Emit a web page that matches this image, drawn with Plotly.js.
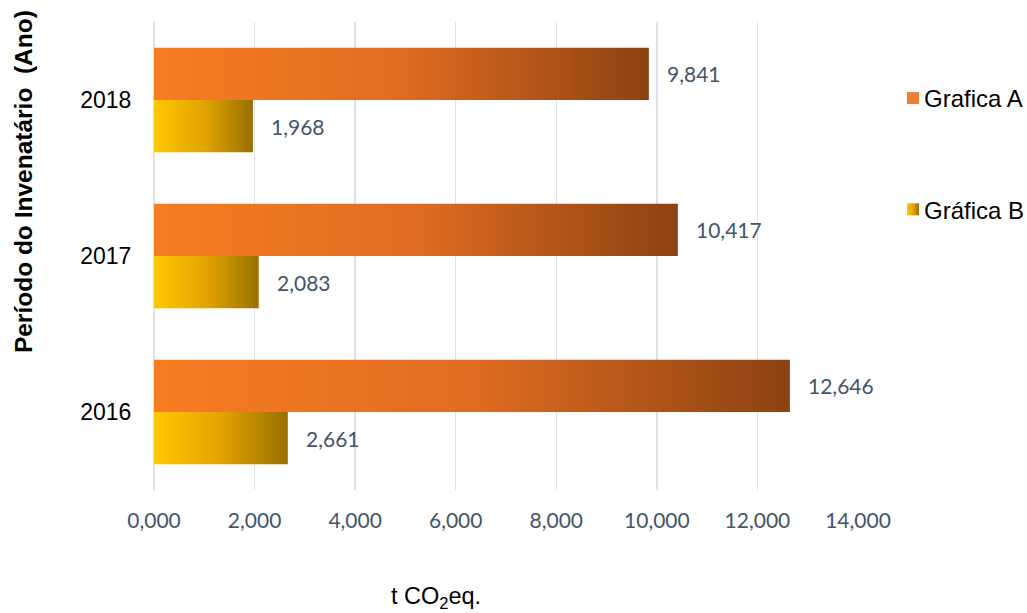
<!DOCTYPE html>
<html>
<head>
<meta charset="utf-8">
<script src="https://cdn.plot.ly/plotly-3.0.1.min.js"></script>
<style>
  html, body { margin: 0; padding: 0; background: #ffffff; }
  #chart { width: 1027px; height: 613px; }
</style>
</head>
<body>
<div id="chart"></div>
<script>
// Inventory periods and emissions (t CO2eq.)
const years = ['2016', '2017', '2018'];
const graficaA = [12646, 10417, 9841];
const graficaB = [2661, 2083, 1968];

const xTickVals = [0, 2000, 4000, 6000, 8000, 10000, 12000, 14000];
const xTickText = ['0,000', '2,000', '4,000', '6,000', '8,000', '10,000', '12,000', '14,000'];

const labelColor = '#44546A';
const labelFont = 'Lato, "Open Sans", sans-serif';
const arial = '"Liberation Sans", Arial, sans-serif';

const fmt = v => v.toLocaleString('en-US');

// Trace B first so that it sits in the lower slot of each group
const traces = [
  {
    type: 'bar', orientation: 'h', name: 'Gráfica B',
    y: years, x: graficaB,
    marker: { color: '#E3A700' },
    legendgroup: 'b', legendrank: 2, hoverinfo: 'skip'
  },
  {
    type: 'bar', orientation: 'h', name: 'Grafica A',
    y: years, x: graficaA,
    marker: { color: '#ED7D31' },
    legendgroup: 'a', legendrank: 1, hoverinfo: 'skip'
  }
];

// Value labels to the right of each bar
const slot = (1 - 0.33) / 4;
const annotations = [];
years.forEach((yr, i) => {
  annotations.push({
    x: graficaA[i], y: i + slot, xref: 'x', yref: 'y',
    text: fmt(graficaA[i]), showarrow: false,
    xanchor: 'left', xshift: 16,
    font: { family: labelFont, size: 21, color: labelColor }
  });
  annotations.push({
    x: graficaB[i], y: i - slot, xref: 'x', yref: 'y',
    text: fmt(graficaB[i]), showarrow: false,
    xanchor: 'left', xshift: 16,
    font: { family: labelFont, size: 21, color: labelColor }
  });
});

annotations.push({
  text: '<b>Período do Invenatário  (Ano)</b>',
  xref: 'paper', yref: 'paper',
  x: -0.186, y: 0.658,
  xanchor: 'center', yanchor: 'middle',
  textangle: -90, showarrow: false,
  font: { family: arial, size: 24.5, color: '#000000' }
});
annotations.push({
  text: 't CO<sub>2</sub>eq.',
  xref: 'paper', yref: 'paper',
  x: 0.401, y: -0.230,
  xanchor: 'center', yanchor: 'middle',
  showarrow: false,
  font: { family: arial, size: 23.5, color: '#000000' }
});

const layout = {
  width: 1027, height: 613,
  margin: { l: 154, r: 169, t: 22, b: 123 },
  paper_bgcolor: '#ffffff', plot_bgcolor: '#ffffff',
  barmode: 'group', bargap: 0.33, bargroupgap: 0,
  showlegend: true,
  legend: {
    xref: 'container', yref: 'container',
    x: 884 / 1027, xanchor: 'left', y: 1 - 76 / 613, yanchor: 'top',
    traceorder: 'grouped', tracegroupgap: 77,
    font: { family: arial, size: 24, color: '#000000' },
    bgcolor: 'rgba(0,0,0,0)', borderwidth: 0
  },
  xaxis: {
    range: [0, 14000], tickvals: xTickVals, ticktext: xTickText,
    showgrid: true, gridcolor: '#DDE2EA', gridwidth: 1.5,
    zeroline: true, zerolinecolor: '#DDE2EA', zerolinewidth: 1.5,
    showline: false,
    ticks: 'outside', ticklen: 12, tickcolor: 'rgba(0,0,0,0)',
    tickfont: { family: labelFont, size: 21, color: labelColor },
    fixedrange: true
  },
  yaxis: {
    type: 'category', categoryorder: 'array', categoryarray: years,
    showgrid: false, zeroline: false, showline: false,
    ticks: 'outside', ticklen: 17, tickcolor: 'rgba(0,0,0,0)',
    tickfont: { family: arial, size: 23, color: '#000000' },
    fixedrange: true
  },
  annotations: annotations
};

function addGradient(svg, id, stops) {
  const ns = 'http://www.w3.org/2000/svg';
  let defs = svg.querySelector('defs');
  if (!defs) { defs = document.createElementNS(ns, 'defs'); svg.insertBefore(defs, svg.firstChild); }
  const g = document.createElementNS(ns, 'linearGradient');
  g.setAttribute('id', id);
  g.setAttribute('x1', '0'); g.setAttribute('y1', '0');
  g.setAttribute('x2', '1'); g.setAttribute('y2', '0');
  stops.forEach(([off, col]) => {
    const s = document.createElementNS(ns, 'stop');
    s.setAttribute('offset', off);
    s.setAttribute('stop-color', col);
    g.appendChild(s);
  });
  defs.appendChild(g);
}

Plotly.newPlot('chart', traces, layout, { displayModeBar: false, staticPlot: true }).then(gd => {
  const svg = gd.querySelector('.main-svg');
  addGradient(svg, 'gradA', [[0, '#F77D22'], [0.5, '#E06C21'], [1, '#8B4212']]);
  addGradient(svg, 'gradB', [[0, '#FFC800'], [0.5, '#E2A400'], [1, '#987000']]);

  // bar fills: trace 0 is B, trace 1 is A
  const barTraces = gd.querySelectorAll('.barlayer .trace');
  barTraces.forEach((t, i) => {
    const id = i === 0 ? 'gradB' : 'gradA';
    t.querySelectorAll('path').forEach(p => { p.style.fill = 'url(#' + id + ')'; });
  });

  // legend: gradient swatch for B, symbols closer to their text
  gd.querySelectorAll('.legend .traces').forEach(item => {
    const txt = item.querySelector('.legendtext');
    const pts = item.querySelector('.legendpoints');
    if (pts) pts.setAttribute('transform', 'translate(9,0)');
    if (txt && txt.textContent.indexOf('B') >= 0) {
      item.querySelectorAll('.legendpoints path').forEach(p => { p.style.fill = 'url(#gradB)'; });
    }
  });
});
</script>
</body>
</html>
